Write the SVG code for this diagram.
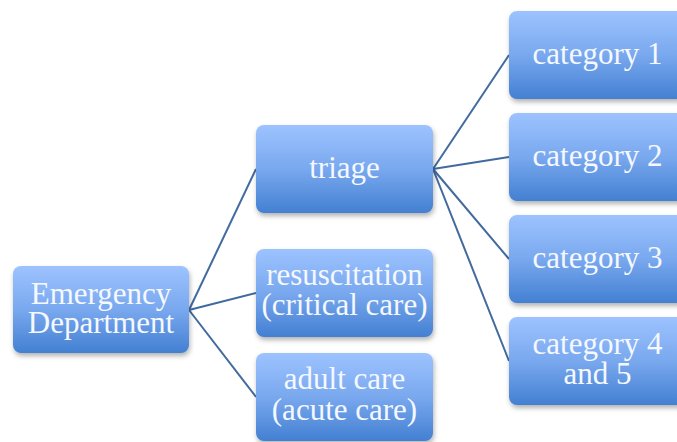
<svg xmlns="http://www.w3.org/2000/svg" width="677" height="442" viewBox="0 0 677 442">
<defs>
<linearGradient id="g" x1="0" y1="0" x2="0" y2="1">
<stop offset="0" stop-color="#9dc3ff"/>
<stop offset="0.5" stop-color="#79a8ee"/>
<stop offset="1" stop-color="#4380d2"/>
</linearGradient>
<filter id="sh" x="-10%" y="-10%" width="130%" height="140%">
<feDropShadow dx="1" dy="3" stdDeviation="2.5" flood-color="#000" flood-opacity="0.3"/>
</filter>
</defs>
<style>
.box{fill:url(#g);filter:url(#sh)}
.t{font-family:"Liberation Serif","Times New Roman",serif;font-size:31px;fill:#f5f8ff;text-anchor:middle}
.c{stroke:#416a9e;stroke-width:2;fill:none}
</style>
<rect width="677" height="442" fill="#fff"/>
<g id="connectors">
<line class="c" x1="189" y1="310" x2="256" y2="169"/>
<line class="c" x1="189" y1="310" x2="256" y2="293"/>
<line class="c" x1="189" y1="310" x2="256" y2="397"/>
<line class="c" x1="433" y1="169" x2="509" y2="55"/>
<line class="c" x1="433" y1="169" x2="509" y2="157"/>
<line class="c" x1="433" y1="169" x2="509" y2="259"/>
<line class="c" x1="433" y1="169" x2="509" y2="361"/>
</g>
<g id="emergency">
<rect class="box" x="13" y="266" width="176" height="87" rx="8"/>
<text class="t" x="101" y="304">Emergency</text>
<text class="t" x="101" y="333">Department</text>
</g>
<g id="triage">
<rect class="box" x="256" y="125" width="177" height="88" rx="8"/>
<text class="t" x="344.5" y="178">triage</text>
</g>
<g id="resuscitation">
<rect class="box" x="256" y="249" width="177" height="88" rx="8"/>
<text class="t" x="344.5" y="285">resuscitation</text>
<text class="t" x="344.5" y="315">(critical care)</text>
</g>
<g id="adult">
<rect class="box" x="256" y="353" width="177" height="88" rx="8"/>
<text class="t" x="344.5" y="389">adult care</text>
<text class="t" x="344.5" y="420">(acute care)</text>
</g>
<g id="cat1">
<rect class="box" x="509" y="11" width="177" height="88" rx="8"/>
<text class="t" x="597.5" y="64">category 1</text>
</g>
<g id="cat2">
<rect class="box" x="509" y="113" width="177" height="88" rx="8"/>
<text class="t" x="597.5" y="166">category 2</text>
</g>
<g id="cat3">
<rect class="box" x="509" y="215" width="177" height="88" rx="8"/>
<text class="t" x="597.5" y="268">category 3</text>
</g>
<g id="cat4">
<rect class="box" x="509" y="317" width="177" height="88" rx="8"/>
<text class="t" x="597.5" y="354">category 4</text>
<text class="t" x="597.5" y="384">and 5</text>
</g>
</svg>
